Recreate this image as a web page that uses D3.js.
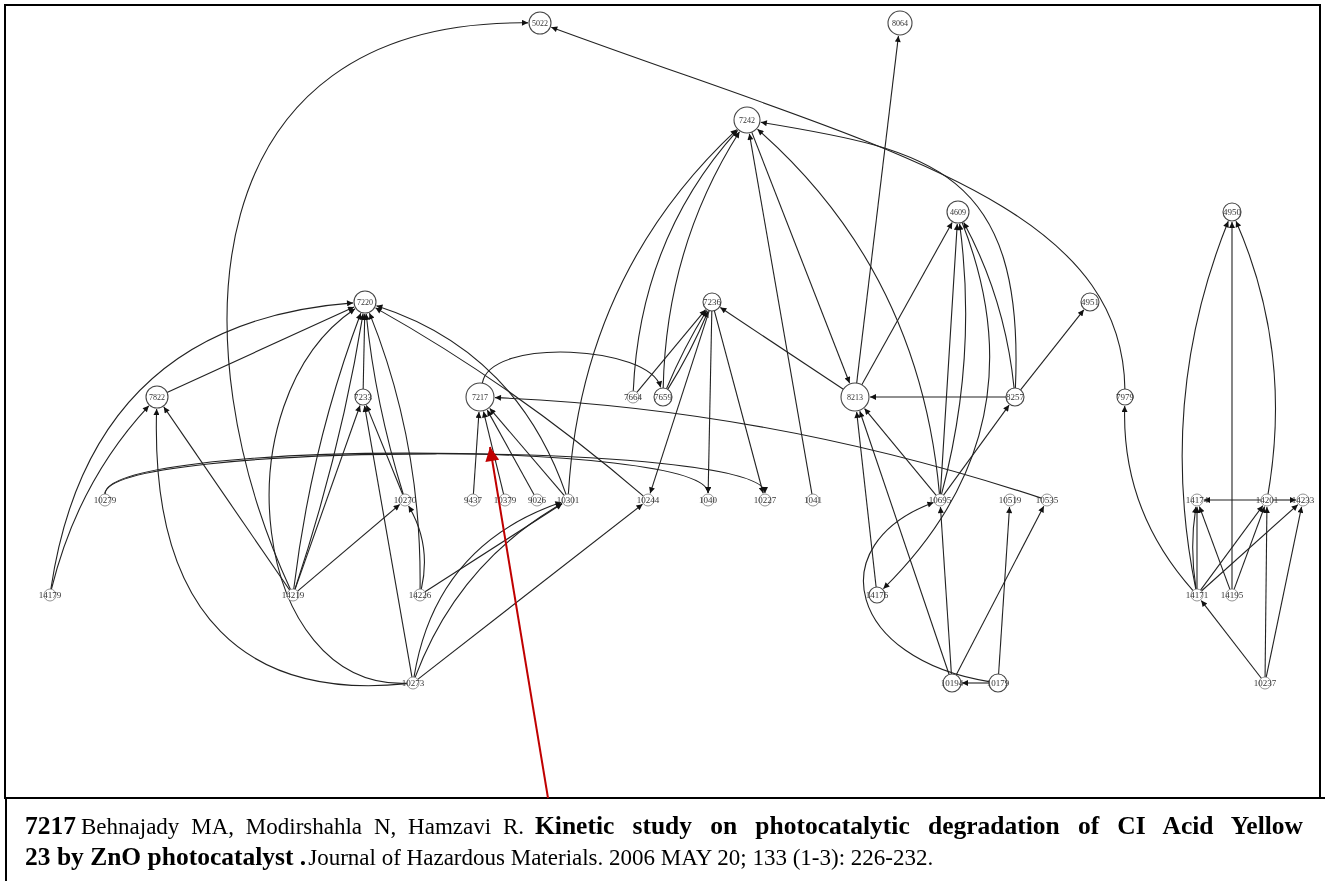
<!DOCTYPE html>
<html><head><meta charset="utf-8">
<script src="https://cdn.jsdelivr.net/npm/d3@7"></script>
<style>
html,body{margin:0;padding:0;background:#fff;}
svg{display:block;}
.cap{white-space:pre;}
</style></head>
<body>
<svg id="chart" width="1325" height="881"></svg>
<script>
// ---------- DATA ----------
const nodeIds = ["5022","8064","7242","4609","4950","7220","7236","4951","7822","7233","7217","7664","7659","8213","8257","7979",
  "10279","10270","9437","10379","9026","10301","10244","1040","10227","1041","10695","10519","10535","14174","14201","14233",
  "14179","14219","14226","14176","14171","14195","10273","10194","10179","10237"];
// layer (rank) of each node in the layered layout, and its horizontal slot
const nodeRank = [0,0,1,2,2,3,3,3,4,4,4,4,4,4,4,4,
  5,5,5,5,5,5,5,5,5,5,5,5,5,5,5,5,
  6,6,6,6,6,6,7,7,7,7];
const nodeSlot = [54.0,90.0,74.7,95.8,123.2,36.5,71.2,109.0,15.7,36.3,48.0,63.3,66.3,85.5,101.5,112.5,
  10.5,40.5,47.3,50.5,53.7,56.8,64.8,70.8,76.5,81.3,94.0,101.0,104.7,119.7,126.7,130.3,
  5.0,29.3,42.0,87.7,119.7,123.2,41.3,95.2,99.8,126.5];
// citation links: citing paper -> cited paper, with bow of the drawn curve
const linkSource = ["14179","14179","7822","14219","10273","14219","14219","14219","14219","14219","10273","10273","10273","10273","10273",
  "14226","14226","14226","7233","10270","10270","10301","10244","10279","10279",
  "9437","10379","9026","10301","10535","7217",
  "10301","7664","7659","7664","7659","7659","7236","7236","7236","1041","8213","7242","10695",
  "8213","8213","8257","8257","10695","10695","4609","8257","8257","7979",
  "14171","14171","14195","14201","14201","14201","14171","14171","14171","14171","14195","14195","10237","10237","10237",
  "10695","14176","10194","10194","10179","10179","10194","10179","10695"];
const linkTarget = ["7822","7220","7220","7822","7822","5022","7220","7220","7233","10270","7220","7233","10301","10301","10244",
  "10301","7220","10270","7220","7233","7220","7220","7220","1040","10227",
  "7217","7217","7217","7217","7217","7659",
  "7242","7242","7242","7236","7236","7236","10244","1040","10227","7242","7236","8213","7242",
  "8064","4609","8213","4609","4609","4609","14176","4951","7242","5022",
  "7979","4950","4950","4950","14174","14233","14174","14174","14201","14233","14174","14201","14171","14201","14233",
  "8213","8213","8213","10695","10194","10519","10535","10695","8257"];
const linkBend = [0.13,0.4,0,0,0,0,0.06,-0.04,0,0,0,0,0.3,0.18,0,
  0,-0.1,-0.2,0,0,0.05,-0.25,-0.05,0,0,
  0,0,0,0,-0.07,0,
  0.2,0.18,0.14,0,0.04,-0.04,0,0,0,0,0,0,-0.2,
  0,0,0,-0.1,0,-0.1,0.33,0,0,0,
  0.2,0.15,0,-0.15,0,0,0,0.08,0,0,0,0,0,0,0,
  0,0,0,0,0,0,0,0,0];
// long routed links drawn as cubic splines: [out-along, out-side, in-along, in-side] in link-length units
const routedLinks = {
  "14219>5022":[0.29,0.324,0.217,0.52],
  "10179>10695":[0.35,0.70,0.035,0.67],
  "10279>1040":[0,0.1,0,0.1],
  "10279>10227":[0,0.09,0,0.09],
  "7217>7659":[0.055,0.33,0.07,0.28],
  "10273>7822":[0.25,0.346,0.42,0.40],
  "10273>7220":[0.035,0.42,0.206,0.41],
  "7979>5022":[0.155,-0.235,0.51,-0.112],
  "8257>7242":[0.406,-0.429,0.387,-0.288]
};

const captionLine1 = [["7217",true],["Behnajady MA, Modirshahla N, Hamzavi R.",false],["Kinetic study on photocatalytic degradation of CI Acid Yellow",true]];
const captionLine2 = [["23 by ZnO photocatalyst .",true],["Journal of Hazardous Materials. 2006 MAY 20; 133 (1-3): 226-232.",false]];
const highlighted = "7217";

// ---------- DRAW ----------
const svg = d3.select("#chart");
const x = d3.scaleLinear().domain([0,132]).range([0,1320]);
const y = d3.scaleLinear().domain([0,1,2,3,4,5,6,7]).range([23,120,212,302,397,500,595,683]);

const radius = {"7217":14,"8213":14,"7242":13,"5022":11,"8064":12,"4609":11,"7220":11,"7822":11,
  "4950":9,"4951":9,"7236":9,"7233":8,"7659":9,"8257":9,"7979":8,"10194":9,"10179":9,"14176":8};
const rOf = id => radius[id] || 6;

const nodes = nodeIds.map((id,i)=>({id, x:x(nodeSlot[i]), y:y(nodeRank[i]), r:rOf(id)}));
const byId = new Map(nodes.map(n=>[n.id,n]));
const links = linkSource.map((s,i)=>({s:byId.get(s), t:byId.get(linkTarget[i]), b:linkBend[i],
  route: routedLinks[s+">"+linkTarget[i]]}));

// frame
svg.append("rect").attr("x",5).attr("y",5).attr("width",1315).attr("height",793)
  .attr("fill","none").attr("stroke","#000").attr("stroke-width",2);
svg.append("line").attr("x1",5).attr("x2",1325).attr("y1",798).attr("y2",798).attr("stroke","#000").attr("stroke-width",2);
svg.append("line").attr("x1",6).attr("x2",6).attr("y1",798).attr("y2",881).attr("stroke","#000").attr("stroke-width",2);

const defs = svg.append("defs");
defs.append("marker").attr("id","arr").attr("viewBox","0 0 10 10").attr("refX",10).attr("refY",5)
  .attr("markerWidth",8).attr("markerHeight",6).attr("markerUnits","userSpaceOnUse").attr("orient","auto")
  .append("path").attr("d","M0,0L10,5L0,10z").attr("fill","#111");
defs.append("marker").attr("id","redarr").attr("viewBox","0 0 10 10").attr("refX",10).attr("refY",5)
  .attr("markerWidth",20).attr("markerHeight",14).attr("markerUnits","userSpaceOnUse").attr("orient","auto")
  .append("path").attr("d","M0,0L10,5L0,10z").attr("fill","#c00000");

function unit(ax,ay){const l=Math.hypot(ax,ay)||1;return [ax/l,ay/l];}
function linkPath(l){
  const S=l.s, T=l.t;
  const dx=T.x-S.x, dy=T.y-S.y, len=Math.hypot(dx,dy);
  const ux=dx/len, uy=dy/len, nx=dy/len, ny=-dx/len;
  const p = d3.path();
  if(l.route){
    const [a1,b1,a2,b2]=l.route;
    const c1=[S.x+ux*len*a1+nx*len*b1, S.y+uy*len*a1+ny*len*b1];
    const c2=[T.x-ux*len*a2+nx*len*b2, T.y-uy*len*a2+ny*len*b2];
    const u1=unit(c1[0]-S.x,c1[1]-S.y), u2=unit(c2[0]-T.x,c2[1]-T.y);
    p.moveTo(S.x+u1[0]*S.r, S.y+u1[1]*S.r);
    p.bezierCurveTo(c1[0],c1[1],c2[0],c2[1],T.x+u2[0]*(T.r+1),T.y+u2[1]*(T.r+1));
  } else {
    const off=l.b*len;
    const cx=(S.x+T.x)/2+nx*off, cy=(S.y+T.y)/2+ny*off;
    const u1=unit(cx-S.x,cy-S.y), u2=unit(cx-T.x,cy-T.y);
    p.moveTo(S.x+u1[0]*S.r, S.y+u1[1]*S.r);
    p.quadraticCurveTo(cx,cy,T.x+u2[0]*(T.r+1),T.y+u2[1]*(T.r+1));
  }
  return p.toString();
}

const g = svg.append("g");
g.selectAll("path.link").data(links).join("path").attr("class","link")
  .attr("d",linkPath).attr("fill","none").attr("stroke","#222").attr("stroke-width",1.1)
  .attr("marker-end","url(#arr)");

const ng = g.append("g").style("opacity",0.99).selectAll("g.node").data(nodes).join("g").attr("class","node")
  .attr("transform",d=>`translate(${d.x},${d.y})`);
ng.append("circle").attr("r",d=>d.r).attr("fill","#fff")
  .attr("stroke",d=>d.r>6?"#444":"#777").attr("stroke-width",d=>d.r>6?1.1:0.8);
ng.append("text").text(d=>d.id).attr("text-anchor","middle").attr("dy","0.35em")
  .attr("font-family","Liberation Serif, serif").attr("font-size",d=>d.r>=11?8:9)
  .attr("fill","#333");

// annotation arrow to highlighted paper
const hn = byId.get(highlighted);
svg.append("line").attr("x1",hn.x+68).attr("y1",798).attr("x2",hn.x+10).attr("y2",hn.y+50)
  .attr("stroke","#c00000").attr("stroke-width",2).attr("marker-end","url(#redarr)");

// caption: first line justified as in the source document (each run fitted to its span)
const capFont = "Liberation Serif, Times New Roman, serif";
function capRun(str, bold, x0, x1, yy){
  const t = svg.append("text").attr("class","cap").attr("x",x0).attr("y",yy)
    .attr("font-family",capFont).attr("font-size",bold?25.5:23).attr("fill","#000")
    .attr("font-weight",bold?"bold":"normal").text(str);
  if(x1!=null){
    const natural = t.node().getComputedTextLength();
    const spaces = str.split(" ").length-1;
    const extra = x1-x0-natural;
    if(extra>=0 && spaces>0) t.style("word-spacing",(extra/spaces)+"px");
    else if(extra<0) t.attr("textLength",x1-x0).attr("lengthAdjust","spacingAndGlyphs");
  }
  return t;
}
const line1Spans = [[25,null],[81,524],[535,1303]];
captionLine1.forEach(([s,b],i)=>capRun(s,b,line1Spans[i][0],line1Spans[i][1],834));
const b2 = capRun(captionLine2[0][0],captionLine2[0][1],25,null,865);
capRun(captionLine2[1][0],captionLine2[1][1],25+b2.node().getComputedTextLength()+2,null,865);
</script>
</body></html>
